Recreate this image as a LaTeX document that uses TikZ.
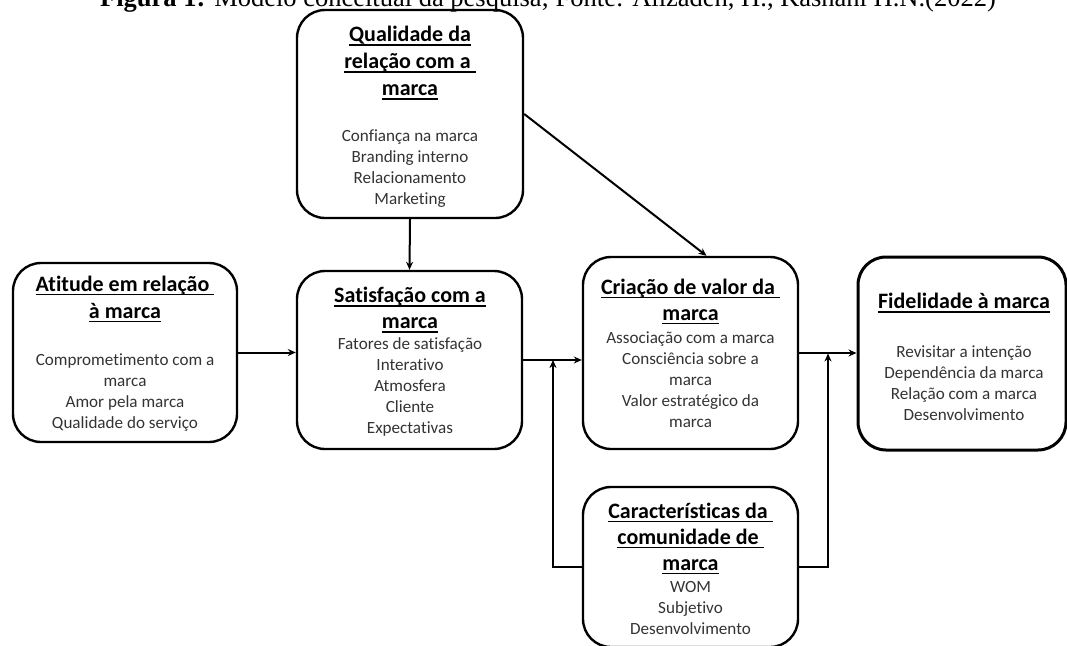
\documentclass[tikz,border=0pt]{standalone}
\usepackage{fontspec}
\setmainfont{Carlito}[Ligatures=NoCommon]
\newfontfamily\tnr{Liberation Serif}
\usetikzlibrary{arrows.meta,calc}
\newcommand\ulx[1]{\setbox0\hbox{#1}\rlap{\rule[-4pt]{\wd0}{1.6pt}}\box0}
\begin{document}
\begin{tikzpicture}[x=1pt,y=-1pt,
  box/.style={draw, line width=2.4pt, rounded corners=28pt, inner sep=0pt},
  ttl/.style={font=\fontsize{22}{27}\selectfont\bfseries, align=center, inner sep=0pt},
  ttlb/.style={ttl, font=\fontsize{22}{26}\selectfont\bfseries},
  body/.style={font=\fontsize{17.1}{21}\selectfont, text=black!80, align=center, inner sep=0pt},
  arr/.style={line width=2pt, -{Stealth[length=8pt,width=7pt]}}]
\clip (0,0) rectangle (1067,645);
% caption
\node[font=\tnr\fontsize{26.5}{30}\selectfont, anchor=base, inner sep=0pt] (cap) at (548,6)
  {\textbf{Figura 1:} Modelo conceitual da pesquisa; Fonte: Alizadeh, H., Kashani H.N.(2022)};
% boxes
\node[box, minimum width=226pt, minimum height=208pt] (q) at (410,114) {};
\node[box, minimum width=224pt, minimum height=179pt] (a) at (125,352.5) {};
\node[box, minimum width=225pt, minimum height=178pt] (s) at (409.5,360) {};
\node[box, minimum width=215pt, minimum height=192pt] (c) at (690.5,353) {};
\node[box, line width=3pt, minimum width=208pt, minimum height=193pt] (f) at (962,353.5) {};
\node[box, minimum width=215pt, minimum height=160pt] (k) at (690.5,567) {};
% texts
\node[ttl] (qt) at (410,63) {\ulx{Qualidade da}\\\ulx{relação com a\ }\\\ulx{marca}};
\node[body] (qb) at (410,169) {Confiança na marca\\Branding interno\\Relacionamento\\Marketing};
\node[ttl] (at) at (125,299) {\ulx{Atitude em relação\ }\\\ulx{à marca}};
\node[body] (ab) at (125,393) {Comprometimento com a\\marca\\Amor pela marca\\Qualidade do serviço};
\node[ttlb] (st) at (410,310) {\ulx{Satisfação com a}\\\ulx{marca}};
\node[body] (sb) at (410,387) {Fatores de satisfação\\Interativo\\Atmosfera\\Cliente\\Expectativas};
\node[ttlb] (ct) at (690.5,301.5) {\ulx{Criação de valor da\ }\\\ulx{marca}};
\node[body] (cb) at (690.5,380) {Associação com a marca\\Consciência sobre a\\marca\\Valor estratégico da\\marca};
\node[ttlb] (ft) at (964,303) {\ulx{Fidelidade à marca}};
\node[body] (fb) at (964,383) {Revisitar a intenção\\Dependência da marca\\Relação com a marca\\Desenvolvimento};
\node[ttlb] (kt) at (690.5,538.5) {\ulx{Características da\ }\\\ulx{comunidade de\ }\\\ulx{marca}};
\node[body] (kb) at (690.5,608.5) {WOM\\Subjetivo\\Desenvolvimento};
% connectors
\coordinate (j1) at (553,360);
\coordinate (j2) at (828,353.5);
\draw[arr] (a.east) -- (a.east -| s.west);
\draw[arr] (q.south) -- (s.north);
\draw[arr] (q.east) -- ($(c.north)+(16,0)$);
\draw[arr] (s.east) -- (s.east -| c.west);
\draw[arr] (c.east) -- (c.east -| f.west);
\draw[arr] (k.west) -| (j1);
\draw[arr] (k.east) -| (j2);
\end{tikzpicture}
\end{document}
